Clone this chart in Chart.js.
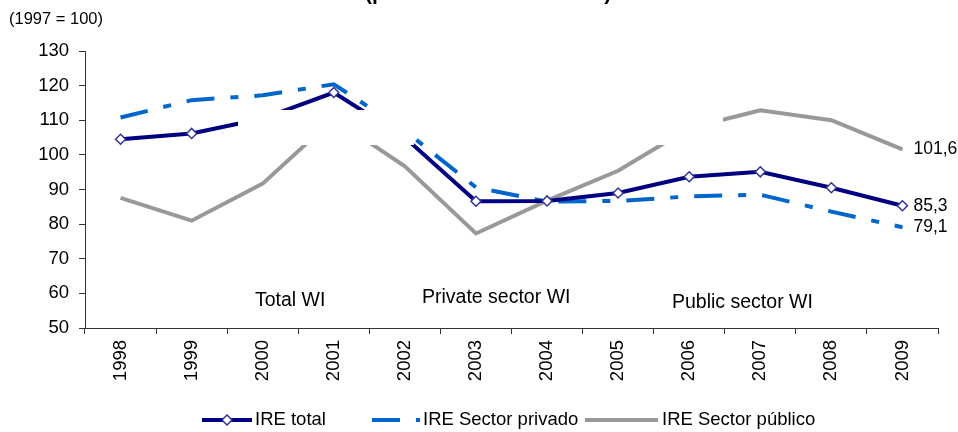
<!DOCTYPE html>
<html>
<head>
<meta charset="utf-8">
<script src="https://cdn.jsdelivr.net/npm/chart.js@4/dist/chart.umd.min.js"></script>
<style>
  body { margin: 0; background: #fff; }
  canvas { display: block; }
</style>
</head>
<body>
<canvas id="chart" width="958" height="432"></canvas>
<script>
var years = ['1998', '1999', '2000', '2001', '2002', '2003', '2004', '2005', '2006', '2007', '2008', '2009']

// Wage index, 1997 = 100
var ireTotal = [104.5, 106.2, 110.5, 118.0, 105.0, 86.6, 86.7, 89.0, 93.7, 95.1, 90.5, 85.3]
var irePrivado = [110.8, 115.8, 117.2, 120.4, 107.0, 90.6, 86.5, 86.7, 88.0, 88.5, 83.6, 79.1]
var irePublico = [87.6, 81.0, 91.7, 110.5, 96.7, 77.3, 86.8, 95.4, 107.7, 112.9, 110.0, 101.6]

var seriesNames = ['IRE total', 'IRE Sector privado', 'IRE Sector público']
var sectorNotes = ['Total WI', 'Private sector WI', 'Public sector WI']

var FONT = "'Liberation Sans', Arial, sans-serif"
var blueDash = [28, 16, 8, 16]

/**
 * Free text: cut-off heading, unit note, sector notes, end values, legend
 */
var decorations = {
    id: 'decorations',
    afterDatasetsDraw: function (chart) {
        var ctx = chart.ctx
        ctx.save()

        // blank boxes sitting over the lines
        ctx.fillStyle = '#fff'
        ctx.fillRect(238, 110, 176, 35)
        ctx.fillRect(600, 110, 123, 35)

        ctx.fillStyle = '#000'
        ctx.textBaseline = 'alphabetic'
        ctx.font = 'bold 21px ' + FONT
        ctx.fillText('(por sector institucional)', 365, -0.5)

        ctx.textBaseline = 'middle'
        ctx.font = '16.5px ' + FONT
        ctx.fillText('(1997 = 100)', 9, 19)

        ctx.font = '19.5px ' + FONT
        ctx.fillText(sectorNotes[0], 255, 301)
        ctx.fillText(sectorNotes[1], 422, 298)
        ctx.fillText(sectorNotes[2], 672, 303)

        // value of the last point of each series
        ctx.font = '17.5px ' + FONT
        chart.data.datasets.forEach(function (ds, i) {
            var pts = chart.getDatasetMeta(i).data
            var last = pts[pts.length - 1]
            var v = ds.data[ds.data.length - 1]
            ctx.fillText(v.toFixed(1).replace('.', ','), last.x + 11, last.y)
        })
        ctx.restore()
    },
    afterDraw: function (chart) {
        var ctx = chart.ctx
        var y = 420
        var items = [
            { x0: 202, x1: 252, tx: 255 },
            { x0: 372, x1: 420, tx: 423 },
            { x0: 585, x1: 658, tx: 662 }
        ]
        ctx.save()
        ctx.font = '18.5px ' + FONT
        ctx.textBaseline = 'middle'
        chart.data.datasets.forEach(function (ds, i) {
            var it = items[i]
            ctx.strokeStyle = ds.borderColor
            ctx.lineWidth = ds.borderWidth
            ctx.setLineDash(ds.borderDash || [])
            ctx.beginPath()
            ctx.moveTo(it.x0, y)
            ctx.lineTo(it.x1, y)
            ctx.stroke()
            ctx.setLineDash([])
            if (ds.pointRadius > 0) {
                var cx = (it.x0 + it.x1) / 2, r = ds.pointRadius
                ctx.beginPath()
                ctx.moveTo(cx, y - r)
                ctx.lineTo(cx + r, y)
                ctx.lineTo(cx, y + r)
                ctx.lineTo(cx - r, y)
                ctx.closePath()
                ctx.fillStyle = ds.pointBackgroundColor
                ctx.fill()
                ctx.lineWidth = ds.pointBorderWidth
                ctx.strokeStyle = ds.pointBorderColor
                ctx.stroke()
            }
            ctx.fillStyle = '#000'
            ctx.fillText(ds.label, it.tx, y)
        })
        ctx.restore()
    }
}

var config = {
    type: 'line',
    data: {
        labels: years,
        datasets: [{
            label: seriesNames[0],
            data: ireTotal,
            borderColor: '#000080',
            borderWidth: 4,
            pointStyle: 'rectRot',
            pointRadius: 5,
            pointBackgroundColor: '#fff',
            pointBorderColor: '#333399',
            pointBorderWidth: 1.5,
            order: 0
        }, {
            label: seriesNames[1],
            data: irePrivado,
            borderColor: '#0066cc',
            borderWidth: 4,
            borderDash: blueDash,
            pointRadius: 0,
            order: 1
        }, {
            label: seriesNames[2],
            data: irePublico,
            borderColor: '#999999',
            borderWidth: 4,
            pointRadius: 0,
            order: 2
        }]
    },
    options: {
        responsive: false,
        animation: false,
        devicePixelRatio: 1,
        tension: 0,
        layout: {
            padding: { top: 51, right: 20, left: 0, bottom: 0 }
        },
        plugins: {
            legend: { display: false },
            title: { display: false },
            tooltip: { enabled: false }
        },
        events: [],
        scales: {
            x: {
                offset: true,
                grid: { drawOnChartArea: false, drawTicks: true, tickLength: 6, color: '#333', offset: true },
                border: { color: '#333', width: 1 },
                ticks: {
                    font: { family: FONT, size: 18.5 },
                    color: '#000',
                    maxRotation: 90,
                    minRotation: 90,
                    padding: 6
                },
                afterFit: function (s) { s.height = 104 }
            },
            y: {
                min: 50,
                max: 130,
                grid: { drawOnChartArea: false, drawTicks: true, tickLength: 6, color: '#333' },
                border: { color: '#333', width: 1 },
                ticks: {
                    stepSize: 10,
                    font: { family: FONT, size: 18.5 },
                    color: '#000',
                    padding: 10
                },
                afterFit: function (s) { s.width = 85 }
            }
        }
    },
    plugins: [decorations]
}

var chart = new Chart(document.getElementById('chart'), config)
</script>
</body>
</html>
